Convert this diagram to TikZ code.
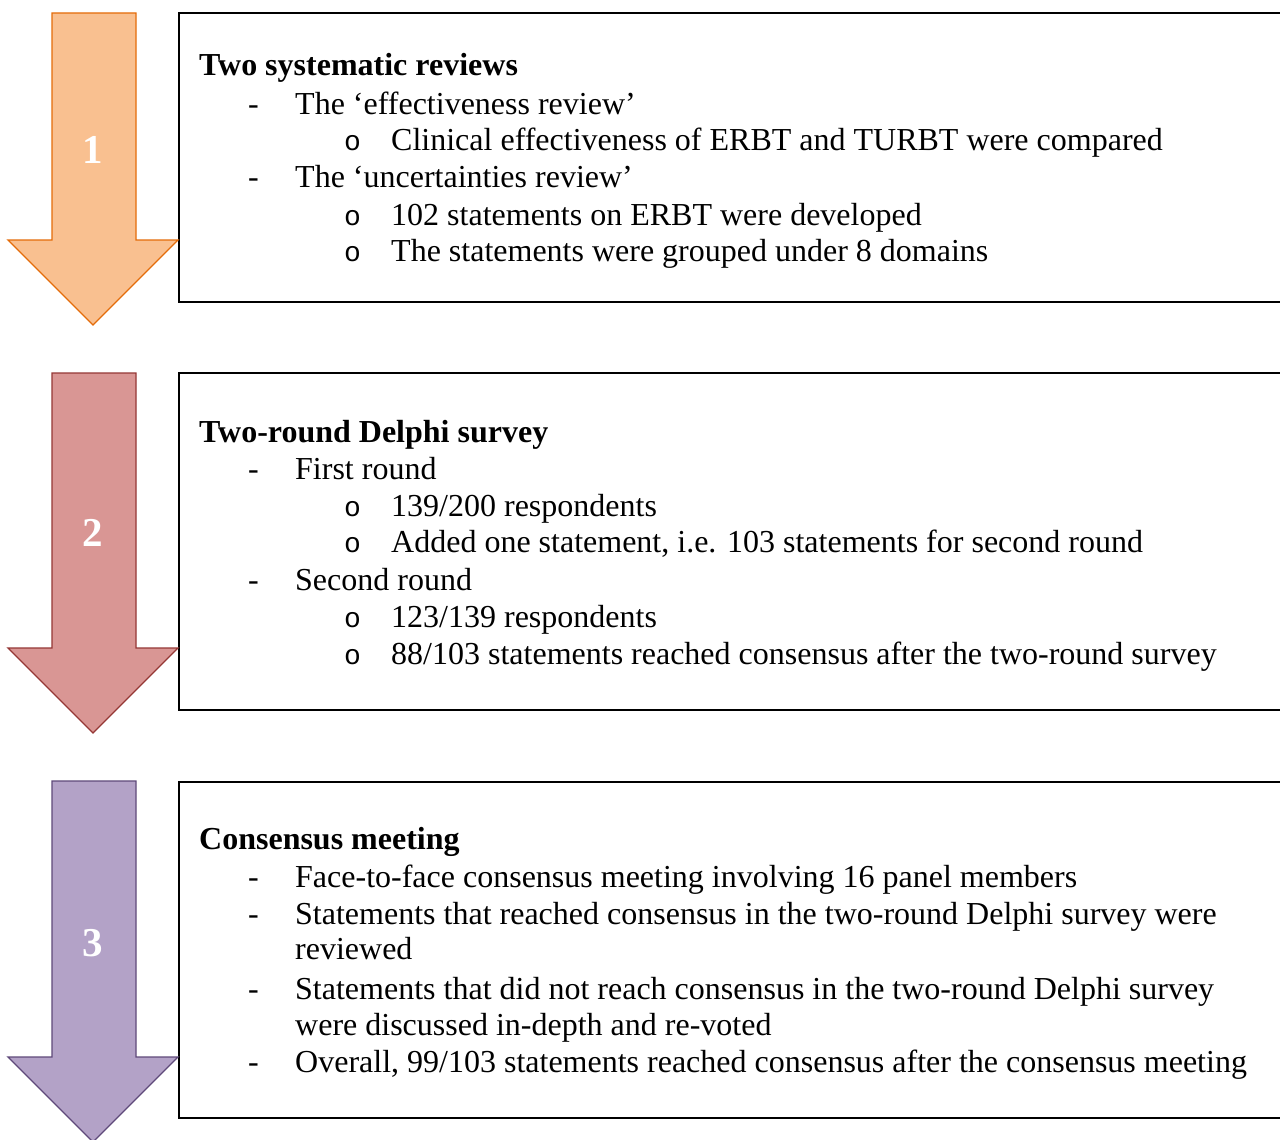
\documentclass[tikz,border=0pt]{standalone}
\usepackage{fontspec}
\setmainfont{Liberation Serif}
\newfontfamily\monof{Liberation Mono}
\definecolor{orfill}{HTML}{F9C090}
\definecolor{ordraw}{HTML}{E46C0A}
\definecolor{rdfill}{HTML}{D99694}
\definecolor{rddraw}{HTML}{953735}
\definecolor{pufill}{HTML}{B3A2C7}
\definecolor{pudraw}{HTML}{5F497A}
\begin{document}
\begin{tikzpicture}[x=1pt,y=-1pt,
 txt/.style={anchor=base west,inner sep=0pt,font=\fontsize{32}{37}\selectfont},
 hd/.style={anchor=base west,inner sep=0pt,font=\fontsize{32}{37}\selectfont\bfseries},
 bul/.style={anchor=base west,inner sep=0pt,font=\monof\fontsize{28}{37}\selectfont},
 panel/.style={draw=black,line width=1.8pt,fill=white,inner sep=0pt,anchor=north west},
 num/.style={anchor=base,inner sep=0pt,text=white,font=\fontsize{41}{41}\selectfont\bfseries},
 arr/.style={line width=1.3pt,line join=miter}]
\clip (0,0) rectangle (1280,1140);
\fill[white] (0,0) rectangle (1280,1140);

% panels
\node[panel,minimum width=1120pt,minimum height=289pt] (box1) at (178,12) {};
\node[panel,minimum width=1120pt,minimum height=337pt] (box2) at (178,372) {};
\node[panel,minimum width=1120pt,minimum height=336pt] (box3) at (178,781) {};

% arrows
\draw[arr,fill=orfill,draw=ordraw] (52,13) -- (136,13) -- (136,240) -- (178,240) -- (93,325) -- (8,240) -- (52,240) -- cycle;
\draw[arr,fill=rdfill,draw=rddraw] (52,373) -- (136,373) -- (136,648) -- (178,648) -- (93,733) -- (8,648) -- (52,648) -- cycle;
\draw[arr,fill=pufill,draw=pudraw] (52,781) -- (136,781) -- (136,1057) -- (178,1057) -- (93,1142) -- (8,1057) -- (52,1057) -- cycle;
\node[num] (n1) at (93,163) {1};
\node[num] (n2) at (93,546) {2};
\node[num] (n3) at (93,956) {3};

% box 1
\node[hd] (h1) at (199,76) {Two systematic reviews};
\node[txt] (d11) at (248,114) {-};
\node[txt] (a11) at (295,114) {The ‘effectiveness review’};
\node[bul] (o11) at (344,150) {o};
\node[txt] (b11) at (391,150) {Clinical effectiveness of ERBT and TURBT were compared};
\node[txt] (d12) at (248,187) {-};
\node[txt] (a12) at (295,187) {The ‘uncertainties review’};
\node[bul] (o12) at (344,225) {o};
\node[txt] (b12) at (391,225) {102 statements on ERBT were developed};
\node[bul] (o13) at (344,261) {o};
\node[txt] (b13) at (391,261) {The statements were grouped under 8 domains};

% box 2
\node[hd] (h2) at (199,442) {Two-round Delphi survey};
\node[txt] (d21) at (248,479) {-};
\node[txt] (a21) at (295,479) {First round};
\node[bul] (o21) at (344,516) {o};
\node[txt] (b21) at (391,516) {139/200 respondents};
\node[bul] (o22) at (344,552) {o};
\node[txt] (b22) at (391,552) {Added one statement, i.e. 103 statements for second round};
\node[txt] (d22) at (248,590) {-};
\node[txt] (a22) at (295,590) {Second round};
\node[bul] (o23) at (344,627) {o};
\node[txt] (b23) at (391,627) {123/139 respondents};
\node[bul] (o24) at (344,664) {o};
\node[txt] (b24) at (391,664) {88/103 statements reached consensus after the two-round survey};

% box 3
\node[hd] (h3) at (199,849) {Consensus meeting};
\node[txt] (d31) at (248,887) {-};
\node[txt] (a31) at (295,887) {Face-to-face consensus meeting involving 16 panel members};
\node[txt] (d32) at (248,924) {-};
\node[txt] (a32) at (295,924) {Statements that reached consensus in the two-round Delphi survey were};
\node[txt] (a32b) at (295,959) {reviewed};
\node[txt] (d33) at (248,999) {-};
\node[txt] (a33) at (295,999) {Statements that did not reach consensus in the two-round Delphi survey};
\node[txt] (a33b) at (295,1035) {were discussed in-depth and re-voted};
\node[txt] (d34) at (248,1072) {-};
\node[txt] (a34) at (295,1072) {Overall, 99/103 statements reached consensus after the consensus meeting};
\end{tikzpicture}
\end{document}
